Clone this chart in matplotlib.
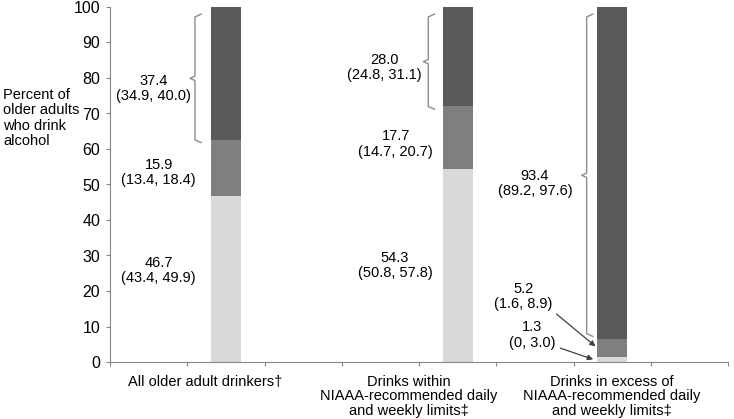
import matplotlib.pyplot as plt

plt.rcParams['font.family'] = ['Liberation Sans', 'DejaVu Sans']

# groups (category slots on an 8-slot axis, as in the original)
groups = ['All older adult drinkers\u2020',
          'Drinks within\nNIAAA-recommended daily\nand weekly limits\u2021',
          'Drinks in excess of\nNIAAA-recommended daily\nand weekly limits\u2021']
bar_slots = [1, 4, 6]
n_slots = 8

# stacked segments, bottom to top, with 95% CI
light = [46.7, 54.3, 1.3]
light_lo = [43.4, 50.8, 0]
light_hi = [49.9, 57.8, 3.0]
mid = [15.9, 17.7, 5.2]
mid_lo = [13.4, 14.7, 1.6]
mid_hi = [18.4, 20.7, 8.9]
dark = [37.4, 28.0, 93.4]
dark_lo = [34.9, 24.8, 89.2]
dark_hi = [40.0, 31.1, 97.6]

c_light = '#d9d9d9'
c_mid = '#7f7f7f'
c_dark = '#595959'
c_axis = '#868686'
bw = 0.39


def fmt(v):
    return '0' if v == 0 else '%.1f' % v


fig = plt.figure(figsize=(7.34, 4.19), dpi=100)
ax = fig.add_axes([110 / 734, 57 / 419, 618 / 734, 355 / 419])

xs = [s + 0.5 for s in bar_slots]
bottom2 = [a + b for a, b in zip(light, mid)]
ax.bar(xs, light, bw, color=c_light)
ax.bar(xs, mid, bw, bottom=light, color=c_mid)
ax.bar(xs, dark, bw, bottom=bottom2, color=c_dark)

ax.set_xlim(0, n_slots)
ax.set_ylim(0, 100)
ax.set_yticks(range(0, 101, 10))
ax.set_xticks(range(0, n_slots + 1))
ax.set_xticklabels([])
ax.tick_params(axis='y', labelsize=11.5, length=3, color=c_axis, pad=4)
ax.tick_params(axis='x', length=3, color=c_axis)
for s in ['top', 'right']:
    ax.spines[s].set_visible(False)
for s in ['left', 'bottom']:
    ax.spines[s].set_color(c_axis)

fig.text(3 / 734, 1 - 118 / 419,
         'Percent of\nolder adults\nwho drink\nalcohol',
         ha='left', va='center', fontsize=10.5, linespacing=1.12)

# group labels below the axis
label_x = [1.23, 3.87, 6.5]
for x, g in zip(label_x, groups):
    ax.text(x, -3.7, g, ha='center', va='top', fontsize=10.5,
            linespacing=1.03, clip_on=False)


def lab(x, y, v, lo, hi):
    ax.text(x, y, '%s\n(%s, %s)' % (fmt(v), fmt(lo), fmt(hi)),
            ha='center', va='center', fontsize=10.5, linespacing=1.15)


def brace(x, lo, hi):
    d = 0.08
    m = (lo + hi) / 2
    ax.plot([x + d, x, x, x - d * 0.8, x, x, x + d],
            [hi, hi - 0.8, m + 0.6, m, m - 0.6, lo + 0.8, lo],
            color='#8c8c8c', lw=1.0, solid_joinstyle='round')


# label centres (x, y) for light, mid, dark segments of each bar
light_pos = [(0.63, 25.8), (3.69, 27.2), (5.46, 7.6)]
mid_pos = [(0.63, 53.4), (3.70, 61.4), (5.35, 18.5)]
dark_pos = [(0.56, 77.0), (3.55, 83.0), (5.50, 50.3)]
brace_x = [1.10, 4.12, 6.17]

for i in range(3):
    lab(*light_pos[i], light[i], light_lo[i], light_hi[i])
    lab(*mid_pos[i], mid[i], mid_lo[i], mid_hi[i])
    lab(*dark_pos[i], dark[i], dark_lo[i], dark_hi[i])
    brace(brace_x[i], bottom2[i] + (0.7 if i == 2 else -0.8), 98)

left3 = xs[2] - bw / 2
ax.annotate('', xy=(left3 - 0.02, light[2] + mid[2] / 2 + 0.5),
            xytext=(5.78, 13.5),
            arrowprops=dict(arrowstyle='-|>', color='#404040', lw=0.9,
                            mutation_scale=8, shrinkA=0, shrinkB=0))
ax.annotate('', xy=(left3 - 0.05, light[2] / 2 + 0.1),
            xytext=(5.83, 3.9), annotation_clip=False,
            arrowprops=dict(arrowstyle='-|>', color='#404040', lw=0.9,
                            mutation_scale=8, shrinkA=0, shrinkB=0))

plt.savefig('out.png', dpi=100)
